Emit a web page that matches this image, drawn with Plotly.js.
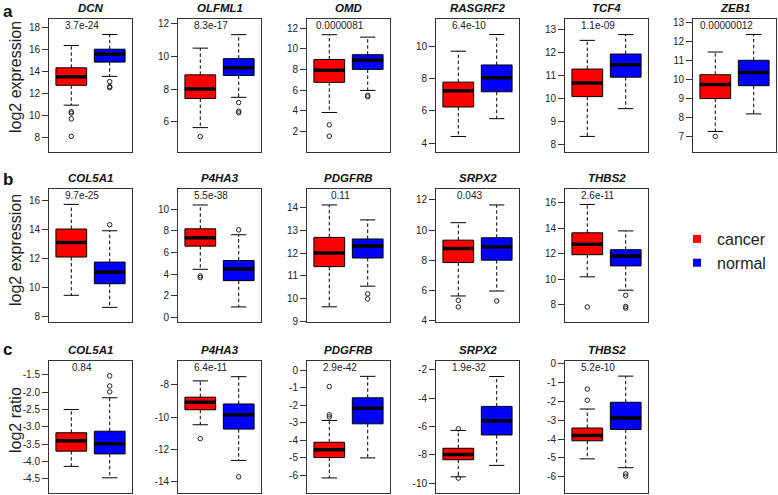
<!DOCTYPE html>
<html>
<head>
<meta charset="utf-8">
<script src="https://cdn.plot.ly/plotly-3.0.1.min.js"></script>
<style>
  html, body { margin: 0; padding: 0; background: #ffffff; }
  #chart { width: 778px; height: 495px; }
</style>
</head>
<body>
<div id="chart"></div>
<script>
// ---------------- DATA ----------------
const genes = ['DCN', 'OLFML1', 'OMD', 'RASGRF2', 'TCF4', 'ZEB1',
               'COL5A1', 'P4HA3', 'PDGFRB', 'SRPX2', 'THBS2',
               'COL5A1', 'P4HA3', 'PDGFRB', 'SRPX2', 'THBS2'];
const panelRow = ['a','a','a','a','a','a','b','b','b','b','b','c','c','c','c','c'];
const pValues = ['3.7e-24', '8.3e-17', '0.0000081', '6.4e-10', '1.1e-09', '0.00000012',
                 '9.7e-25', '5.5e-38', '0.11', '0.043', '2.6e-11',
                 '0.84', '6.4e-11', '2.9e-42', '1.9e-32', '5.2e-10'];
const rowLetters = ['a', 'b', 'c'];
const rowTitles = ['log2 expression', 'log2 expression', 'log2 ratio'];
const groupNames = ['cancer', 'normal'];

const yTickValues = [
  [8, 10, 12, 14, 16, 18], [6, 8, 10, 12], [2, 4, 6, 8, 10, 12], [4, 6, 8, 10],
  [8, 9, 10, 11, 12, 13], [7, 8, 9, 10, 11, 12, 13],
  [8, 10, 12, 14, 16], [0, 2, 4, 6, 8, 10], [9, 10, 11, 12, 13, 14], [4, 6, 8, 10, 12],
  [8, 10, 12, 14, 16],
  [-4.5, -4.0, -3.5, -3.0, -2.5, -2.0, -1.5], [-14, -12, -10, -8], [-6, -5, -4, -3, -2, -1, 0],
  [-10, -8, -6, -4, -2], [-6, -5, -4, -3, -2, -1, 0]
];
const yTickDecimals = [0,0,0,0,0,0, 0,0,0,0,0, 1,0,0,0,0];
const yRanges = [
  [6.7, 18.79], [4.18, 12.26], [0.05, 12.84], [3.46, 11.72], [7.71, 13.43], [6.19, 13.19],
  [7.59, 16.74], [-0.41, 11.85], [8.96, 14.81], [3.89, 12.71], [6.63, 17.06],
  [-4.9, -1.09], [-14.68, -6.5], [-6.98, 0.53], [-10.68, -1.35], [-6.85, 0.17]
];

// cancer group
const cancerQ1     = [12.76, 7.43, 6.75, 6.25, 10.09, 9.00, 12.07, 6.60, 11.40, 7.84, 11.92, -3.70, -9.54, -4.98, -8.35, -4.09];
const cancerMedian = [13.55, 8.00, 7.93, 7.27, 10.68, 9.74, 13.07, 7.37, 12.00, 8.78, 12.75, -3.40, -9.07, -4.53, -7.98, -3.81];
const cancerQ3     = [14.36, 8.87, 8.96, 7.80, 11.28, 10.26, 14.00, 8.20, 12.69, 9.33, 13.64, -3.17, -8.76, -4.11, -7.54, -3.41];
const cancerLower  = [10.95, 5.65, 3.84, 4.41, 8.37, 7.26, 9.43, 4.46, 9.63, 5.62, 10.18, -4.14, -10.47, -6.14, -9.56, -5.05];
const cancerUpper  = [16.40, 10.50, 11.35, 9.73, 12.52, 11.46, 15.70, 10.40, 14.12, 10.49, 15.87, -2.50, -7.75, -2.87, -6.28, -2.40];
const cancerOutliers = [
  [10.35, 10.22, 9.7, 8.1], [5.1], [2.64, 1.55], [], [], [7.0],
  [], [3.85, 3.7], [], [5.33, 4.89], [7.81],
  [], [-11.33], [-2.55, -2.67, -0.94], [-6.17, -9.65], [-1.93, -1.34]
];

// normal group
const normalQ1     = [14.88, 8.83, 8.00, 7.20, 10.93, 9.68, 10.23, 3.41, 11.78, 8.00, 11.04, -3.78, -10.74, -3.06, -6.60, -3.49];
const normalMedian = [15.60, 9.31, 8.89, 8.08, 11.47, 10.38, 11.03, 4.49, 12.31, 8.89, 11.81, -3.49, -9.85, -2.17, -5.59, -2.88];
const normalQ3     = [16.06, 9.86, 9.42, 8.87, 11.93, 11.02, 11.72, 5.27, 12.62, 9.49, 12.31, -3.125, -9.18, -1.58, -4.58, -2.04];
const normalLower  = [13.58, 7.50, 5.97, 5.52, 9.57, 8.19, 8.60, 0.98, 10.54, 5.95, 9.13, -4.47, -12.68, -5.00, -8.75, -5.52];
const normalUpper  = [17.40, 11.32, 11.12, 10.77, 12.77, 12.39, 13.88, 7.65, 13.46, 11.67, 13.79, -2.16, -7.49, -0.36, -2.47, -0.65];
const normalOutliers = [
  [13.1, 12.65, 12.55], [7.18, 6.65, 6.55], [5.5, 5.35], [], [], [],
  [14.3], [8.1], [10.2, 9.98], [5.29], [8.73, 7.85, 7.72],
  [-1.99, -1.82, -1.53], [-13.7], [], [], [-5.85, -5.97]
];

// ---------------- LAYOUT GEOMETRY & STYLE ----------------
const W = 778, H = 495;
const FONT = 'Arial, "Liberation Sans", Helvetica, sans-serif';
const colLeft = [49, 178, 307, 436, 565, 693];
const panelW = 83;
const rowTop = {a: 19.3, b: 189.3, c: 360.7};
const rowBottom = {a: 151.7, b: 322, c: 492.7};
const groupColors = ['#ff0000', '#0000ff'];
const frameColor = '#333333';

const groupStats = [
  {q1: cancerQ1, med: cancerMedian, q3: cancerQ3, lo: cancerLower, hi: cancerUpper, out: cancerOutliers},
  {q1: normalQ1, med: normalMedian, q3: normalQ3, lo: normalLower, hi: normalUpper, out: normalOutliers}
];

const traces = [];
const layout = {
  width: W, height: H,
  margin: {l: 0, r: 0, t: 0, b: 0},
  paper_bgcolor: '#ffffff', plot_bgcolor: '#ffffff',
  showlegend: true,
  legend: {
    x: 677 / W, y: 1 - 222 / H, xanchor: 'left', yanchor: 'top',
    font: {family: FONT, size: 16, color: '#222222'},
    bgcolor: 'rgba(0,0,0,0)', tracegroupgap: 0, itemclick: false, itemdoubleclick: false
  },
  annotations: []
};

const rowCount = {a: 0, b: 0, c: 0};
genes.forEach((gene, i) => {
  const row = panelRow[i];
  const col = rowCount[row]++;
  const sfx = i === 0 ? '' : String(i + 1);
  const xa = 'x' + sfx, ya = 'y' + sfx;

  const whiskX = [], whiskY = [], capX = [], capY = [], medX = [], medY = [], outX = [], outY = [];
  groupStats.forEach((s, g) => {
    const pos = g + 1;
    traces.push({
      type: 'box', xaxis: xa, yaxis: ya, x: [pos],
      q1: [s.q1[i]], median: [s.med[i]], q3: [s.q3[i]],
      lowerfence: [s.q1[i]], upperfence: [s.q3[i]],
      width: 0.8, whiskerwidth: 0, boxpoints: false,
      fillcolor: groupColors[g], line: {color: '#000000', width: 1},
      name: groupNames[g], showlegend: false, hoverinfo: 'skip'
    });
    whiskX.push(pos, pos, null, pos, pos, null);
    whiskY.push(s.q3[i], s.hi[i], null, s.q1[i], s.lo[i], null);
    capX.push(pos - 0.2, pos + 0.2, null, pos - 0.2, pos + 0.2, null);
    capY.push(s.hi[i], s.hi[i], null, s.lo[i], s.lo[i], null);
    medX.push(pos - 0.4, pos + 0.4, null);
    medY.push(s.med[i], s.med[i], null);
    s.out[i].forEach(v => { outX.push(pos); outY.push(v); });
  });
  traces.push({type: 'scatter', mode: 'lines', xaxis: xa, yaxis: ya, x: whiskX, y: whiskY,
    line: {color: '#000000', width: 1, dash: '3.5px,2.5px'}, showlegend: false, hoverinfo: 'skip'});
  traces.push({type: 'scatter', mode: 'lines', xaxis: xa, yaxis: ya, x: capX, y: capY,
    line: {color: '#000000', width: 1}, showlegend: false, hoverinfo: 'skip'});
  traces.push({type: 'scatter', mode: 'lines', xaxis: xa, yaxis: ya, x: medX, y: medY,
    line: {color: '#000000', width: 3.5}, showlegend: false, hoverinfo: 'skip'});
  traces.push({type: 'scatter', mode: 'markers', xaxis: xa, yaxis: ya, x: outX, y: outY,
    marker: {symbol: 'circle-open', size: 4.5, color: '#222222', line: {width: 1}},
    showlegend: false, hoverinfo: 'skip'});

  const left = colLeft[col];
  layout['xaxis' + sfx] = {
    domain: [left / W, (left + panelW) / W], range: [0.42, 2.58], anchor: ya,
    showticklabels: false, ticks: '', showgrid: false, zeroline: false,
    showline: true, mirror: true, linecolor: frameColor, linewidth: 1, fixedrange: true
  };
  layout['yaxis' + sfx] = {
    domain: [1 - rowBottom[row] / H, 1 - rowTop[row] / H], range: yRanges[i], anchor: xa,
    tickmode: 'array', tickvals: yTickValues[i],
    ticktext: yTickValues[i].map(v => v.toFixed(yTickDecimals[i])),
    ticks: 'outside', ticklen: 6, tickwidth: 1, tickcolor: frameColor,
    tickfont: {family: FONT, size: 10, color: '#222222'},
    showgrid: false, zeroline: false,
    showline: true, mirror: true, linecolor: frameColor, linewidth: 1, fixedrange: true
  };

  // gene title
  layout.annotations.push({
    xref: xa + ' domain', yref: ya + ' domain', x: 0.5, y: 1, xanchor: 'center', yanchor: 'middle',
    yshift: 11, showarrow: false, text: '<b><i>' + gene + '</i></b>',
    font: {family: FONT, size: 11.5, color: '#111111'}
  });
  // p-value
  layout.annotations.push({
    xref: xa, yref: ya + ' domain', x: 1.28, y: 1, xanchor: 'center', yanchor: 'middle',
    yshift: -6.5, showarrow: false, text: pValues[i],
    font: {family: FONT, size: 10, color: '#222222'}
  });
});

// row letters and y-axis titles
const rowTitleCenter = [77, 250, 420];
const rowLetterTop = [0, 168, 338];
rowLetters.forEach((letter, r) => {
  layout.annotations.push({
    xref: 'paper', yref: 'paper', x: 1 / W, y: 1 - rowLetterTop[r] / H,
    xanchor: 'left', yanchor: 'top', showarrow: false,
    text: '<b>' + letter + '</b>', font: {family: FONT, size: 17, color: '#111111'}
  });
  layout.annotations.push({
    xref: 'paper', yref: 'paper', x: 15 / W, y: 1 - rowTitleCenter[r] / H,
    xanchor: 'center', yanchor: 'middle', textangle: -90, showarrow: false,
    text: rowTitles[r], font: {family: FONT, size: 16, color: '#222222'}
  });
});

// legend entries
groupNames.forEach((name, g) => {
  traces.push({
    type: 'scatter', mode: 'markers', x: [null], y: [null], xaxis: 'x', yaxis: 'y',
    name: name, showlegend: true, hoverinfo: 'skip',
    marker: {symbol: 'square', size: 8, color: groupColors[g]}
  });
});

Plotly.newPlot('chart', traces, layout, {staticPlot: true, displayModeBar: false});
</script>
</body>
</html>
